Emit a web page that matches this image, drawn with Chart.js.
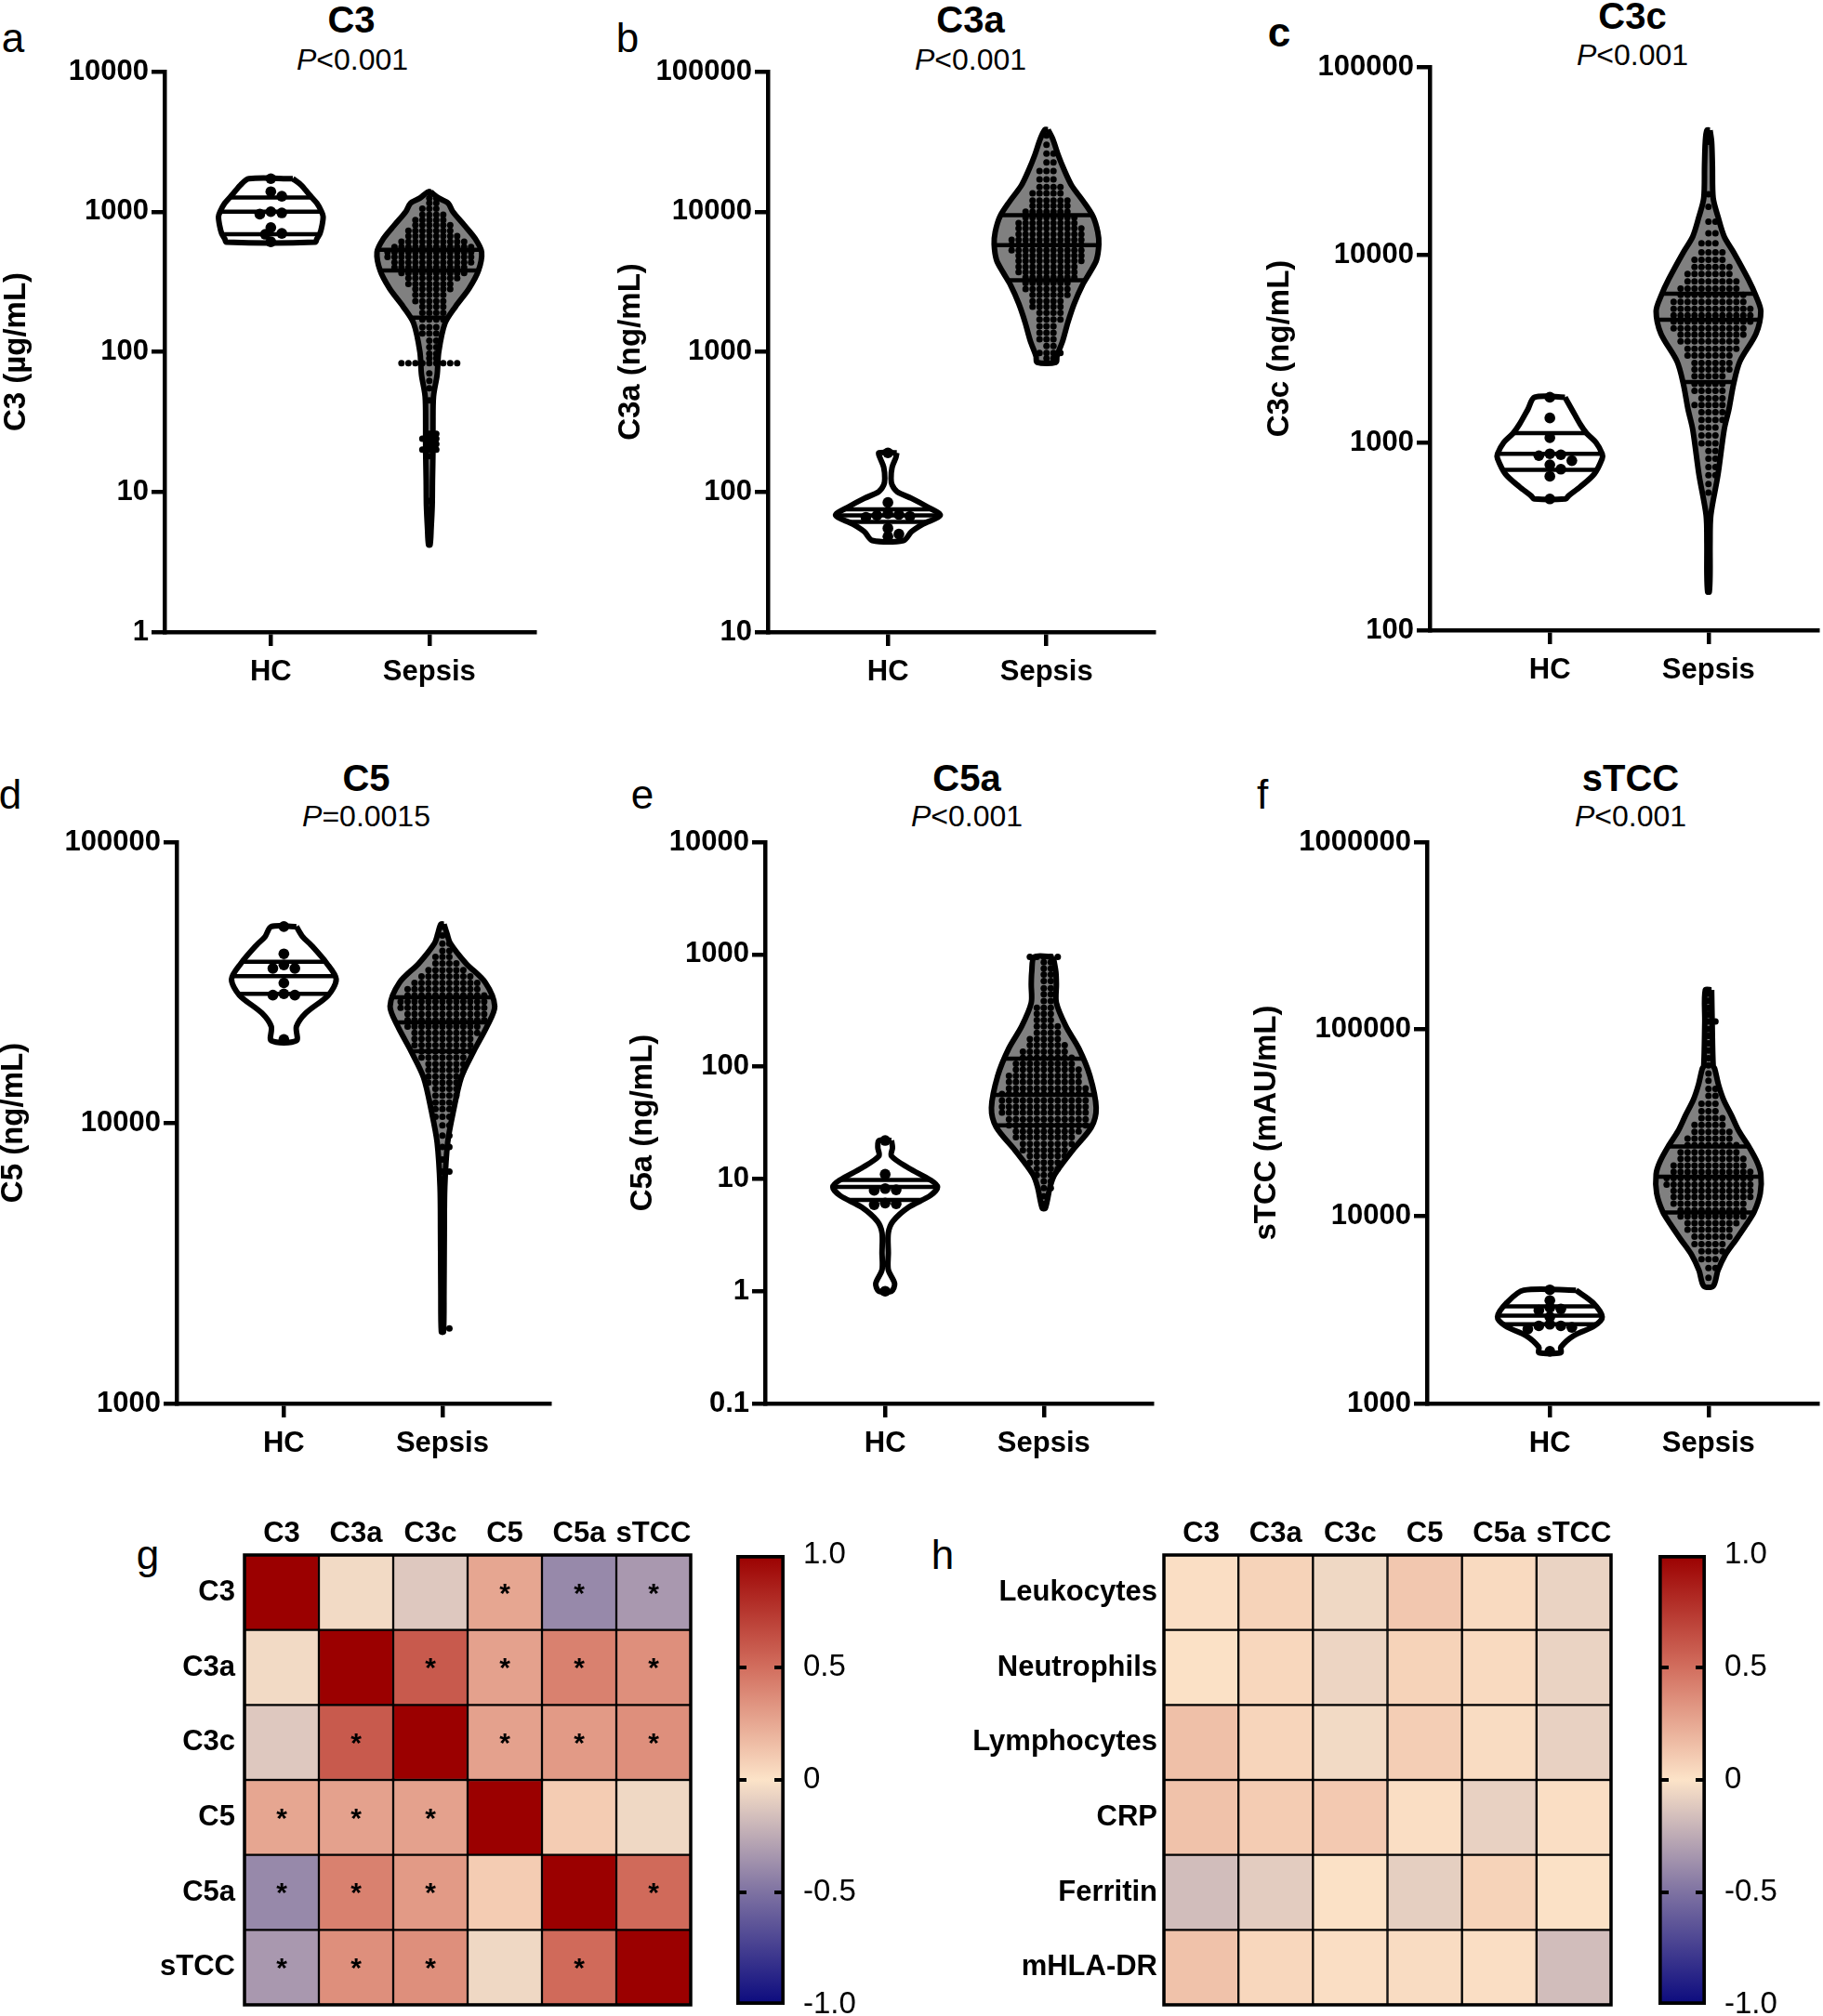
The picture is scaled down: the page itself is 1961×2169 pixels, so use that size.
<!DOCTYPE html>
<html><head><meta charset="utf-8">
<script src="https://cdn.jsdelivr.net/npm/chart.js@4.4.1/dist/chart.umd.min.js"></script>
<style>
html,body{margin:0;padding:0;background:#fff}
body{position:relative;width:1961px;height:2169px;overflow:hidden;font-family:"Liberation Sans",Arial,sans-serif;color:#000}
canvas{position:absolute}
.t{position:absolute;transform:translate(-50%,-50%);white-space:nowrap;line-height:1}
.ttl{font-size:40px;font-weight:bold}
.pv{font-size:32px}
.let{font-size:44px}
</style></head><body>
<div class="t let" style="left:14px;top:41px">a</div>
<div class="t let" style="left:675px;top:41px">b</div>
<div class="t let" style="left:1376px;top:35px;font-weight:bold">c</div>
<div class="t let" style="left:11px;top:855px">d</div>
<div class="t let" style="left:691px;top:855px">e</div>
<div class="t let" style="left:1358px;top:855px">f</div>
<div class="t let" style="left:159px;top:1673px">g</div>
<div class="t let" style="left:1014px;top:1673px">h</div>

<div class="t ttl" style="left:378px;top:21px">C3</div>
<div class="t pv" style="left:379px;top:64px"><i>P</i>&lt;0.001</div>
<div class="t ttl" style="left:1044px;top:21px">C3a</div>
<div class="t pv" style="left:1044px;top:64px"><i>P</i>&lt;0.001</div>
<div class="t ttl" style="left:1756px;top:17px">C3c</div>
<div class="t pv" style="left:1756px;top:59px"><i>P</i>&lt;0.001</div>
<div class="t ttl" style="left:394px;top:837px">C5</div>
<div class="t pv" style="left:394px;top:878px"><i>P</i>=0.0015</div>
<div class="t ttl" style="left:1040px;top:837px">C5a</div>
<div class="t pv" style="left:1040px;top:878px"><i>P</i>&lt;0.001</div>
<div class="t ttl" style="left:1754px;top:837px">sTCC</div>
<div class="t pv" style="left:1754px;top:878px"><i>P</i>&lt;0.001</div>

<script>
// ======================= DATA =======================
const groups = ['HC', 'Sepsis'];

// axis ticks
const c3Ticks = [1, 10, 100, 1000, 10000];
const c3aTicks = [10, 100, 1000, 10000, 100000];
const c3cTicks = [100, 1000, 10000, 100000];
const c5Ticks = [1000, 10000, 100000];
const c5aTicks = [0.1, 1, 10, 100, 1000, 10000];
const stccTicks = [1000, 10000, 100000, 1000000];

// ---- C3 (µg/mL)
const c3HC = [1720, 1390, 1290, 1000, 980, 960, 770, 700, 690, 610];
const c3SepsisLevels = [1380, 1250, 1150, 1050, 950, 870, 800, 730, 670, 610, 560, 515, 475, 435, 400, 365, 335, 305, 280, 255, 230, 210, 190, 170, 150, 135, 120, 108, 97, 90, 83, 70, 62, 55, 45, 26, 24, 22, 20, 18, 8.6];
const c3SepsisCounts = [1, 2, 2, 3, 4, 5, 6, 7, 8, 10, 12, 13, 13, 12, 11, 10, 8, 7, 6, 5, 5, 4, 4, 4, 3, 3, 2, 2, 2, 2, 9, 1, 1, 1, 1, 2, 3, 2, 3, 1, 1];
const c3HCShapeV = [1720, 1550, 1330, 1150, 1000, 920, 800, 700, 640, 606];
const c3HCShapeD = [0.42, 0.58, 0.73, 0.88, 0.97, 1.00, 0.98, 0.94, 0.88, 0.85];
const c3HCQuartiles = [690, 1000, 1260];
const c3SepsisShapeV = [1380, 1250, 1150, 1000, 800, 640, 515, 380, 283, 210, 160, 100, 69, 48, 30, 20, 12, 8, 5.5, 4.2];
const c3SepsisShapeD = [0.03, 0.18, 0.36, 0.45, 0.67, 0.88, 1.00, 0.94, 0.76, 0.50, 0.30, 0.18, 0.15, 0.08, 0.07, 0.07, 0.06, 0.055, 0.035, 0.015];
const c3SepsisQuartiles = [175, 380, 535];

// ---- C3a (ng/mL)
const c3aHC = [190, 84, 70, 69, 68, 67, 66, 55, 50, 48];
const c3aSepsisLevels = [35000, 30000, 26000, 22500, 19500, 17000, 15000, 13500, 12000, 11000, 10000, 9100, 8300, 7600, 6900, 6300, 5800, 5300, 4850, 4450, 4050, 3700, 3400, 3100, 2800, 2550, 2300, 2100, 1900, 1700, 1520, 1370, 1230, 1100, 980, 900];
const c3aSepsisCounts = [1, 1, 2, 2, 3, 3, 4, 5, 6, 6, 7, 8, 9, 10, 10, 11, 11, 11, 10, 10, 9, 9, 8, 7, 7, 6, 5, 5, 4, 4, 3, 3, 3, 2, 4, 2];
const c3aHCShapeV = [190, 175, 150, 125, 112, 100, 90, 78, 68, 59, 52, 45];
const c3aHCShapeD = [0.17, 0.15, 0.08, 0.06, 0.08, 0.18, 0.45, 0.76, 1.00, 0.67, 0.45, 0.30];
const c3aHCQuartiles = [61, 68, 75];
const c3aSepsisShapeV = [38500, 33000, 25600, 19800, 15400, 11900, 9230, 7160, 5840, 4520, 3690, 3010, 2210, 1630, 1200, 930, 841];
const c3aSepsisShapeD = [0.03, 0.12, 0.22, 0.34, 0.48, 0.70, 0.89, 0.98, 1.00, 0.955, 0.83, 0.69, 0.53, 0.41, 0.31, 0.20, 0.18];
const c3aSepsisQuartiles = [3245, 5780, 9460];

// ---- C3c (ng/mL)
const c3cHC = [1740, 1350, 1060, 870, 860, 850, 800, 760, 720, 660, 500];
const c3cSepsisLevels = [44000, 40000, 21000, 18000, 15000, 13000, 11500, 10300, 9400, 8600, 7900, 7200, 6600, 6100, 5600, 5150, 4750, 4400, 4050, 3750, 3450, 3150, 2900, 2650, 2450, 2250, 2050, 1880, 1720, 1580, 1450, 1320, 1200, 1090, 990, 900, 820, 740, 670, 600, 540];
const c3cSepsisCounts = [1, 1, 1, 1, 2, 2, 3, 4, 5, 6, 7, 8, 9, 10, 11, 12, 12, 12, 11, 10, 9, 8, 7, 6, 6, 5, 5, 5, 4, 5, 4, 4, 3, 3, 3, 2, 2, 2, 2, 1, 1];
const c3cHCShapeV = [1740, 1500, 1250, 1120, 1000, 870, 820, 680, 580, 520, 500];
const c3cHCShapeD = [0.29, 0.42, 0.58, 0.70, 0.88, 1.00, 1.00, 0.85, 0.58, 0.36, 0.30];
const c3cHCQuartiles = [715, 870, 1120];
const c3cSepsisShapeV = [46000, 40000, 30000, 20000, 16000, 12500, 10300, 7400, 6000, 5000, 3800, 2700, 2050, 1500, 1170, 670, 410, 290, 200, 160];
const c3cSepsisShapeD = [0.03, 0.06, 0.075, 0.09, 0.18, 0.30, 0.48, 0.76, 0.91, 1.00, 0.91, 0.60, 0.48, 0.39, 0.30, 0.18, 0.045, 0.03, 0.03, 0.015];
const c3cSepsisQuartiles = [2100, 4500, 6200];

// ---- C5 (ng/mL)
const c5HC = [50000, 40000, 36500, 35500, 35500, 31500, 28800, 28500, 28500, 19800];
const c5SepsisLevels = [50000, 46500, 43500, 41000, 39000, 37000, 35000, 33200, 31500, 29900, 28400, 27000, 25700, 24400, 23200, 22000, 20900, 19900, 18900, 18000, 17100, 16200, 15400, 14600, 13900, 13200, 12500, 11800, 11200, 10500, 9800, 9000, 8200, 7400, 6700, 6000, 1850];
const c5SepsisCounts = [1, 1, 2, 2, 3, 4, 6, 8, 10, 11, 12, 13, 13, 12, 12, 11, 10, 9, 9, 8, 7, 6, 6, 5, 5, 4, 4, 3, 3, 3, 2, 2, 2, 1, 2, 1, 2];
const c5HCShapeV = [50000, 46000, 43000, 37000, 32500, 28500, 24600, 22000, 19600];
const c5HCShapeD = [0.24, 0.36, 0.52, 0.82, 1.00, 0.85, 0.42, 0.24, 0.24];
const c5HCQuartiles = [28800, 33300, 37500];
const c5SepsisShapeV = [51000, 47000, 43600, 37000, 31600, 26000, 22000, 18000, 14500, 11000, 8500, 5900, 4000, 2500, 1800];
const c5SepsisShapeD = [0.03, 0.09, 0.15, 0.45, 0.82, 1.00, 0.85, 0.60, 0.36, 0.21, 0.10, 0.045, 0.036, 0.03, 0.02];
const c5SepsisQuartiles = [18000, 22800, 28000];

// ---- C5a (ng/mL)
const c5aHC = [22, 11, 8.2, 8, 7.9, 6.1, 6, 5.9, 1.0];
const c5aSepsisLevels = [950, 850, 750, 660, 580, 500, 440, 385, 335, 295, 260, 228, 200, 176, 155, 136, 120, 106, 94, 83, 73, 64, 57, 50, 44, 39, 34, 30, 26.5, 23.5, 20.5, 18, 16, 14, 12.3, 10.8, 9.5, 8.3, 7, 6];
const c5aSepsisCounts = [5, 2, 2, 2, 2, 2, 2, 2, 3, 3, 3, 4, 4, 5, 6, 7, 8, 9, 10, 11, 11, 12, 13, 13, 13, 13, 12, 12, 10, 9, 8, 7, 6, 5, 4, 3, 2, 2, 1, 1];
const c5aHCShapeV = [22, 19, 16, 12.5, 9.8, 8.5, 7.1, 5.6, 4.2, 3.3, 2.2, 1.55, 1.17, 1.0];
const c5aHCShapeD = [0.12, 0.14, 0.12, 0.45, 0.86, 1.00, 0.86, 0.45, 0.15, 0.06, 0.06, 0.06, 0.18, 0.12];
const c5aHCQuartiles = [6.5, 8.5, 9.8];
const c5aSepsisShapeV = [950, 700, 540, 370, 230, 145, 83, 43, 29, 18, 11, 8.5, 5.5];
const c5aSepsisShapeD = [0.18, 0.23, 0.24, 0.24, 0.42, 0.67, 0.88, 1.00, 0.91, 0.55, 0.21, 0.12, 0.03];
const c5aSepsisQuartiles = [30, 56, 118];

// ---- sTCC (mAU/mL)
const stccHC = [4050, 3550, 3250, 3200, 3150, 2900, 2650, 2600, 2600, 2550, 2500, 1900];
const stccSepsisLevels = [155000, 142000, 130000, 120000, 110000, 100000, 92000, 84000, 77000, 70000, 64000, 58000, 53000, 48000, 44000, 40000, 36500, 33500, 30800, 28300, 26000, 24000, 22000, 20300, 18700, 17300, 16000, 14800, 13700, 12700, 11700, 10800, 10000, 9200, 8500, 7800, 7100, 6500, 5900, 5300, 4700];
const stccSepsisCounts = [1, 1, 1, 1, 2, 1, 1, 1, 1, 1, 1, 1, 1, 2, 2, 3, 3, 4, 5, 6, 7, 8, 9, 10, 11, 12, 13, 13, 12, 12, 11, 10, 10, 8, 7, 6, 5, 4, 3, 2, 1];
const stccHCShapeV = [4030, 3460, 2900, 2600, 2300, 2000, 1870];
const stccHCShapeD = [0.50, 0.82, 1.00, 0.85, 0.45, 0.21, 0.21];
const stccHCQuartiles = [2650, 2950, 3300];
const stccSepsisShapeV = [162000, 110000, 63700, 61400, 50700, 41900, 34600, 28600, 23600, 19500, 16800, 13300, 10600, 9100, 7530, 6220, 5130, 4240];
const stccSepsisShapeD = [0.06, 0.07, 0.09, 0.12, 0.19, 0.29, 0.44, 0.58, 0.77, 0.93, 1.00, 0.99, 0.875, 0.73, 0.53, 0.32, 0.18, 0.09];
const stccSepsisQuartiles = [10500, 16300, 23600];

// ---- g: correlation between complement factors
const corrLabels = ['C3', 'C3a', 'C3c', 'C5', 'C5a', 'sTCC'];
const corrC3   = [1.00, -0.04, -0.12, 0.26, -0.40, -0.33];
const corrC3a  = [-0.04, 1.00, 0.59, 0.28, 0.42, 0.36];
const corrC3c  = [-0.12, 0.59, 1.00, 0.28, 0.31, 0.36];
const corrC5   = [0.26, 0.28, 0.28, 1.00, 0.10, -0.05];
const corrC5a  = [-0.40, 0.42, 0.31, 0.10, 1.00, 0.52];
const corrSTCC = [-0.33, 0.36, 0.36, -0.05, 0.52, 1.00];
const sigC3   = [0, 0, 0, 1, 1, 1];
const sigC3a  = [0, 0, 1, 1, 1, 1];
const sigC3c  = [0, 1, 0, 1, 1, 1];
const sigC5   = [1, 1, 1, 0, 0, 0];
const sigC5a  = [1, 1, 1, 0, 0, 1];
const sigSTCC = [1, 1, 1, 0, 1, 0];

// ---- h: correlation with clinical parameters
const clinLabels = ['Leukocytes', 'Neutrophils', 'Lymphocytes', 'CRP', 'Ferritin', 'mHLA-DR'];
const clinLeukocytes  = [0.02, 0.07, -0.05, 0.12, 0.04, -0.07];
const clinNeutrophils = [0.01, 0.05, -0.06, 0.07, 0.04, -0.07];
const clinLymphocytes = [0.15, 0.06, -0.04, 0.09, 0.03, -0.08];
const clinCRP         = [0.14, 0.10, 0.11, 0.02, -0.08, 0.02];
const clinFerritin    = [-0.17, -0.10, 0.01, -0.09, 0.07, 0.01];
const clinHLADR       = [0.14, 0.05, 0.02, 0.03, 0.02, -0.17];

// colour bar
const cbarTickValues = [-1, -0.5, 0, 0.5, 1];
const cbarTickLabels = ['-1.0', '-0.5', '0', '0.5', '1.0'];

// ======================= STYLE / HELPERS =======================
const cmapStops = [-1, -0.5, 0, 0.5, 1];
const cmapColors = [[11, 10, 126], [126, 114, 162], [252, 227, 200], [210, 110, 94], [155, 0, 0]];
function rgb(c) { return `rgb(${Math.round(c[0])},${Math.round(c[1])},${Math.round(c[2])})`; }
function cmap(v) {
  for (let i = 0; i < cmapStops.length - 1; i++) {
    if (v <= cmapStops[i + 1]) {
      const t = (v - cmapStops[i]) / (cmapStops[i + 1] - cmapStops[i]);
      const a = cmapColors[i], b = cmapColors[i + 1];
      return rgb([a[0] + (b[0] - a[0]) * t, a[1] + (b[1] - a[1]) * t, a[2] + (b[2] - a[2]) * t]);
    }
  }
  return rgb(cmapColors[cmapColors.length - 1]);
}

Chart.defaults.font.family = '"Liberation Sans", Arial, sans-serif';
Chart.defaults.color = '#000';
Chart.defaults.animation = false;
Chart.defaults.events = [];
Chart.defaults.plugins.legend.display = false;
Chart.defaults.plugins.tooltip.enabled = false;

function makeCanvas(left, top, w, h) {
  const c = document.createElement('canvas');
  c.width = w; c.height = h;
  c.style.left = left + 'px'; c.style.top = top + 'px';
  c.style.width = w + 'px'; c.style.height = h + 'px';
  document.body.appendChild(c);
  return c;
}
function expand(levels, counts) {
  const out = [];
  levels.forEach((v, i) => { for (let k = 0; k < counts[i]; k++) out.push(v); });
  return out;
}
const HALF = 0.33; // max half-width of a violin in category units
function outline(V, D, c) {
  const right = V.map((v, i) => ({x: c + HALF * D[i], y: v}));
  const left = V.map((v, i) => ({x: c - HALF * D[i], y: v})).reverse();
  const pts = right.concat(left);
  pts.push({x: pts[0].x, y: pts[0].y});
  return pts;
}
function densAt(V, D, q) {
  const lq = Math.log10(q);
  if (lq >= Math.log10(V[0])) return D[0];
  for (let i = 0; i < V.length - 1; i++) {
    const a = Math.log10(V[i]), b = Math.log10(V[i + 1]);
    if (lq <= a && lq >= b) { const t = (a - lq) / (a - b); return D[i] + (D[i + 1] - D[i]) * t; }
  }
  return D[D.length - 1];
}
// beeswarm placement in pixel space (rows of dots, columns allowed to touch vertically)
function swarm(chart, values, center, d) {
  const xs = chart.scales.x, ys = chart.scales.y;
  const cx = xs.getPixelForValue(center);
  const placed = [], out = [];
  const sorted = values.slice().sort((a, b) => b - a);
  const step = d / 2, lim = d * 0.92;
  for (const v of sorted) {
    const py = ys.getPixelForValue(v);
    let off = 0;
    for (let k = 0; k < 600; k++) {
      off = k === 0 ? 0 : (k % 2 ? 1 : -1) * Math.ceil(k / 2) * step;
      let ok = true;
      for (const p of placed) {
        const dy = (p.y - py) * 1.45;
        if (Math.abs(dy) < lim && Math.hypot(p.x - off, dy) < lim) { ok = false; break; }
      }
      if (ok) break;
    }
    placed.push({x: off, y: py});
    out.push({x: xs.getValueForPixel(cx + off), y: v});
  }
  return out;
}

function violinPanel(p) {
  const cv = makeCanvas(p.left, p.top, p.w, p.h);
  const shapeDs = (V, D, c, color) => ({data: outline(V, D, c), showLine: true, fill: 'shape', backgroundColor: color, borderWidth: 0, pointRadius: 0, tension: 0.3, order: 10});
  const lineDs = (V, D, c) => ({data: outline(V, D, c), showLine: true, fill: false, borderColor: '#000', borderWidth: 6, pointRadius: 0, tension: 0.3, order: 1});
  const quartDs = (Q, V, D, c) => Q.map(q => {
    const w = HALF * densAt(V, D, q);
    return {data: [{x: c - w, y: q}, {x: c + w, y: q}], showLine: true, fill: false, borderColor: '#000', borderWidth: 4.5, pointRadius: 0, tension: 0, order: 8};
  });
  const datasets = [
    shapeDs(p.hcV, p.hcD, 1, '#ffffff'),
    shapeDs(p.sepV, p.sepD, 2, '#808080'),
    ...quartDs(p.hcQ, p.hcV, p.hcD, 1),
    ...quartDs(p.sepQ, p.sepV, p.sepD, 2),
    {data: [], showLine: false, pointRadius: 5.8, pointBackgroundColor: '#000', pointBorderWidth: 0, order: 5},
    {data: [], showLine: false, pointRadius: 3.5, pointBackgroundColor: '#000', pointBorderWidth: 0, order: 5},
    lineDs(p.hcV, p.hcD, 1),
    lineDs(p.sepV, p.sepD, 2)
  ];
  const hcIdx = datasets.length - 4, sepIdx = datasets.length - 3;
  const chart = new Chart(cv, {
    type: 'line',
    data: {datasets},
    options: {
      responsive: false, devicePixelRatio: 1, animation: false,
      layout: {padding: {top: p.padTop, left: 0, right: 0, bottom: 0}},
      scales: {
        x: {
          type: 'linear', min: p.xMin, max: p.xMax, position: 'bottom',
          afterBuildTicks: s => { s.ticks = [{value: 1}, {value: 2}]; },
          afterFit: s => { s.height = 70; s.paddingLeft = 0; s.paddingRight = 0; },
          ticks: {callback: (v, i) => groups[i], font: {size: 31, weight: 'bold'}, color: '#000', padding: 10, maxRotation: 0, autoSkip: false},
          grid: {display: true, drawOnChartArea: false, drawTicks: true, tickLength: 15, color: '#000', lineWidth: 4.5},
          border: {display: true, color: '#000', width: 4.5}
        },
        y: {
          type: 'logarithmic', min: p.ticks[0], max: p.ticks[p.ticks.length - 1],
          afterBuildTicks: s => { s.ticks = p.ticks.map(v => ({value: v})); },
          afterFit: s => { s.width = p.yW; s.paddingTop = 0; s.paddingBottom = 0; },
          ticks: {callback: (v, i) => String(p.ticks[i]), font: {size: 31, weight: 'bold'}, color: '#000', padding: 3, autoSkip: false},
          grid: {display: true, drawOnChartArea: false, drawTicks: true, tickLength: 14, color: '#000', lineWidth: 4.5},
          border: {display: true, color: '#000', width: 4.5},
          title: {display: true, text: p.yTitle, font: {size: 33, weight: 'bold'}, color: '#000', padding: 0}
        }
      }
    }
  });
  chart.data.datasets[hcIdx].data = swarm(chart, p.hc, 1, 12);
  chart.data.datasets[sepIdx].data = swarm(chart, expand(p.sepLevels, p.sepCounts), 2, 7.6);
  chart.update('none');
  return chart;
}

const hmFont = {family: '"Liberation Sans", Arial, sans-serif', size: 31, weight: 'bold'};
const cbFont = {family: '"Liberation Sans", Arial, sans-serif', size: 33, weight: 'normal'};

function heatmap(p) {
  const cv = makeCanvas(p.left, p.top, p.w, p.h);
  const datasets = p.rows.map(vals => ({
    data: vals.map(() => 1),
    backgroundColor: vals.map(cmap),
    borderColor: '#000', borderWidth: 1.5, borderSkipped: false,
    barPercentage: 1, categoryPercentage: 1
  }));
  const rowPos = p.rowLabels.map((_, i) => i + 0.5);
  const extras = {
    id: 'hmExtras',
    afterDatasetsDraw(chart) {
      const ctx = chart.ctx, a = chart.chartArea;
      ctx.save();
      if (p.sig) {
        ctx.fillStyle = '#000';
        ctx.font = 'bold 30px "Liberation Sans", Arial, sans-serif';
        ctx.textAlign = 'center'; ctx.textBaseline = 'middle';
        chart.data.datasets.forEach((ds, i) => {
          chart.getDatasetMeta(i).data.forEach((bar, j) => {
            if (p.sig[i][j]) ctx.fillText('*', bar.x, (bar.y + bar.base) / 2 + 2);
          });
        });
      }
      ctx.strokeStyle = '#000'; ctx.lineWidth = 3.5;
      ctx.strokeRect(a.left, a.top, a.right - a.left, a.bottom - a.top);
      ctx.restore();
    }
  };
  return new Chart(cv, {
    type: 'bar',
    data: {labels: p.colLabels, datasets},
    plugins: [extras],
    options: {
      responsive: false, devicePixelRatio: 1, animation: false,
      layout: {padding: {top: 0, left: 0, right: p.padRight, bottom: 12}},
      scales: {
        x: {type: 'category', position: 'top', stacked: true, offset: true,
            afterFit: s => { s.height = 58; s.paddingLeft = 0; s.paddingRight = 0; },
            grid: {display: false, drawTicks: false}, border: {display: false},
            ticks: {font: hmFont, color: '#000', padding: 4, maxRotation: 0, autoSkip: false}},
        y: {type: 'linear', min: 0, max: 6, reverse: true, stacked: true,
            afterBuildTicks: s => { s.ticks = rowPos.map(v => ({value: v})); },
            afterFit: s => { s.width = p.yW; s.paddingTop = 0; s.paddingBottom = 0; },
            grid: {display: false, drawTicks: false}, border: {display: false},
            ticks: {callback: (v, i) => p.rowLabels[i], font: hmFont, color: '#000', padding: p.labelPad, autoSkip: false}}
      }
    }
  });
}

function colorbar(p) {
  const cv = makeCanvas(p.left, p.top, p.w, p.h);
  const ticksPlugin = {
    id: 'cbTicks',
    afterDatasetsDraw(chart) {
      const ctx = chart.ctx, a = chart.chartArea, y = chart.scales.y;
      ctx.save(); ctx.strokeStyle = '#000'; ctx.lineWidth = 4;
      [-0.5, 0, 0.5].forEach(v => {
        const py = y.getPixelForValue(v);
        ctx.beginPath();
        ctx.moveTo(a.left, py); ctx.lineTo(a.left + 11, py);
        ctx.moveTo(a.right - 11, py); ctx.lineTo(a.right, py);
        ctx.stroke();
      });
      ctx.restore();
    }
  };
  return new Chart(cv, {
    type: 'bar',
    data: {labels: [''], datasets: [{
      data: [[-1, 1]],
      backgroundColor: c => {
        const ch = c.chart, a = ch.chartArea;
        if (!a) return '#fff';
        const g = ch.ctx.createLinearGradient(0, a.bottom, 0, a.top);
        cmapStops.forEach((s, i) => g.addColorStop((s + 1) / 2, rgb(cmapColors[i])));
        return g;
      },
      borderColor: '#000', borderWidth: 4, borderSkipped: false,
      barPercentage: 1, categoryPercentage: 1
    }]},
    plugins: [ticksPlugin],
    options: {
      responsive: false, devicePixelRatio: 1, animation: false,
      layout: {padding: {top: 58, left: 12, right: 0, bottom: 12}},
      scales: {
        x: {display: false},
        y: {position: 'right', min: -1, max: 1,
            afterBuildTicks: s => { s.ticks = cbarTickValues.map(v => ({value: v})); },
            afterFit: s => { s.width = p.yW; s.paddingTop = 0; s.paddingBottom = 0; },
            grid: {display: false, drawTicks: false}, border: {display: false},
            ticks: {callback: (v, i) => cbarTickLabels[i], font: cbFont, color: '#000', padding: 20, autoSkip: false}}
      }
    }
  });
}

// ======================= BUILD =======================
violinPanel({left: -2, top: 53, w: 583, h: 697, yW: 179, padTop: 24, xMin: 0.3295, xMax: 2.665,
  ticks: c3Ticks, yTitle: 'C3 (\u00B5g/mL)', hc: c3HC, sepLevels: c3SepsisLevels, sepCounts: c3SepsisCounts,
  hcV: c3HCShapeV, hcD: c3HCShapeD, sepV: c3SepsisShapeV, sepD: c3SepsisShapeD, hcQ: c3HCQuartiles, sepQ: c3SepsisQuartiles});
violinPanel({left: 659, top: 53, w: 588, h: 697, yW: 167, padTop: 24, xMin: 0.243, xMax: 2.677,
  ticks: c3aTicks, yTitle: 'C3a (ng/mL)', hc: c3aHC, sepLevels: c3aSepsisLevels, sepCounts: c3aSepsisCounts,
  hcV: c3aHCShapeV, hcD: c3aHCShapeD, sepV: c3aSepsisShapeV, sepD: c3aSepsisShapeD, hcQ: c3aHCQuartiles, sepQ: c3aSepsisQuartiles});
violinPanel({left: 1357, top: 48, w: 604, h: 700, yW: 181, padTop: 24, xMin: 0.243, xMax: 2.688,
  ticks: c3cTicks, yTitle: 'C3c (ng/mL)', hc: c3cHC, sepLevels: c3cSepsisLevels, sepCounts: c3cSepsisCounts,
  hcV: c3cHCShapeV, hcD: c3cHCShapeD, sepV: c3cSepsisShapeV, sepD: c3cSepsisShapeD, hcQ: c3cHCQuartiles, sepQ: c3cSepsisQuartiles});
violinPanel({left: -5, top: 882, w: 602, h: 698, yW: 195, padTop: 24, xMin: 0.3237, xMax: 2.676,
  ticks: c5Ticks, yTitle: 'C5 (ng/mL)', hc: c5HC, sepLevels: c5SepsisLevels, sepCounts: c5SepsisCounts,
  hcV: c5HCShapeV, hcD: c5HCShapeD, sepV: c5SepsisShapeV, sepD: c5SepsisShapeD, hcQ: c5HCQuartiles, sepQ: c5SepsisQuartiles});
violinPanel({left: 672, top: 882, w: 573, h: 698, yW: 151, padTop: 24, xMin: 0.243, xMax: 2.682,
  ticks: c5aTicks, yTitle: 'C5a (ng/mL)', hc: c5aHC, sepLevels: c5aSepsisLevels, sepCounts: c5aSepsisCounts,
  hcV: c5aHCShapeV, hcD: c5aHCShapeD, sepV: c5aSepsisShapeV, sepD: c5aSepsisShapeD, hcQ: c5aHCQuartiles, sepQ: c5aSepsisQuartiles});
violinPanel({left: 1343, top: 882, w: 618, h: 698, yW: 192, padTop: 24, xMin: 0.2254, xMax: 2.688,
  ticks: stccTicks, yTitle: 'sTCC (mAU/mL)', hc: stccHC, sepLevels: stccSepsisLevels, sepCounts: stccSepsisCounts,
  hcV: stccHCShapeV, hcD: stccHCShapeD, sepV: stccSepsisShapeV, sepD: stccSepsisShapeD, hcQ: stccHCQuartiles, sepQ: stccSepsisQuartiles});

heatmap({left: 110, top: 1615, w: 650, h: 554, yW: 153, padRight: 17, labelPad: 10,
  colLabels: corrLabels, rowLabels: corrLabels,
  rows: [corrC3, corrC3a, corrC3c, corrC5, corrC5a, corrSTCC],
  sig: [sigC3, sigC3a, sigC3c, sigC5, sigC5a, sigSTCC]});
colorbar({left: 780, top: 1615, w: 200, h: 554, yW: 136});
heatmap({left: 1020, top: 1615, w: 730, h: 554, yW: 232, padRight: 17, labelPad: 7,
  colLabels: corrLabels, rowLabels: clinLabels,
  rows: [clinLeukocytes, clinNeutrophils, clinLymphocytes, clinCRP, clinFerritin, clinHLADR],
  sig: null});
colorbar({left: 1772, top: 1615, w: 189, h: 554, yW: 126});
</script>
</body></html>
